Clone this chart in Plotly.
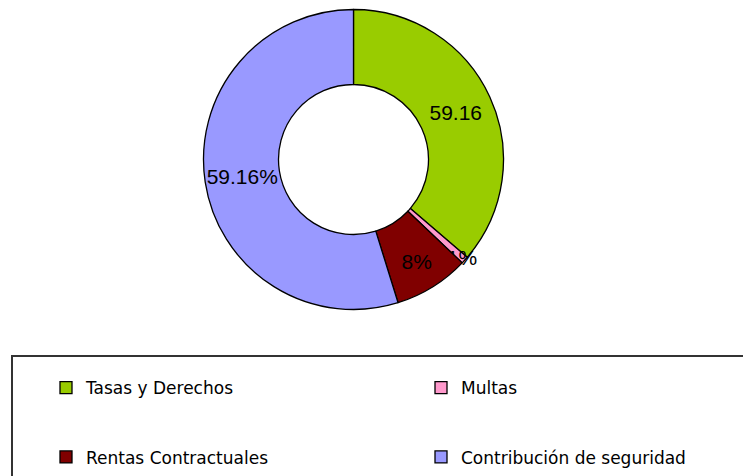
import plotly.graph_objects as go

categories = ["Tasas y Derechos", "Multas", "Rentas Contractuales", "Contribución de seguridad"]
values = [36.3, 0.8, 8.1, 54.8]
slice_text = ["59.16", "1%", "8%", "59.16%"]
colors = ["#99CC00", "#FF99CC", "#800000", "#9999FF"]

W, H = 751, 476
PAGE_OFFSET = 8  # default body margin of the written html page
# pie geometry in pixels (as seen on the page)
cx, cy, r = 353.5 - PAGE_OFFSET, 159.5 - PAGE_OFFSET, 150

legend_labels = [" <br>" + c + "<br> " for c in categories]

fig = go.Figure(go.Pie(
    labels=legend_labels,
    values=values,
    text=slice_text,
    textinfo="text",
    textposition="inside",
    insidetextorientation="horizontal",
    textfont=dict(family="Liberation Sans, Arial", size=21, color="black"),
    marker=dict(colors=colors, line=dict(color="black", width=1.3)),
    hole=0.5,
    sort=False,
    direction="clockwise",
    rotation=0,
    hoverinfo="skip",
    domain=dict(x=[(cx - r) / W, (cx + r) / W], y=[1 - (cy + r) / H, 1 - (cy - r) / H]),
))

box_left = 12 - PAGE_OFFSET
box_top = 356 - PAGE_OFFSET

fig.update_layout(
    width=W, height=H,
    margin=dict(l=0, r=0, t=0, b=0, autoexpand=False),
    paper_bgcolor="white",
    plot_bgcolor="white",
    uniformtext=dict(minsize=21, mode="show"),
    showlegend=True,
    legend=dict(
        orientation="h",
        x=38 / W, xanchor="left",
        y=1 - 340 / H, yanchor="top",
        entrywidth=330,
        entrywidthmode="pixels",
        maxheight=400,
        font=dict(family="DejaVu Sans", size=17, color="black"),
        bgcolor="rgba(0,0,0,0)",
        borderwidth=0,
        traceorder="normal",
    ),
    shapes=[dict(
        type="rect", xref="paper", yref="paper",
        x0=box_left / W, x1=1.05, y0=-0.05, y1=1 - box_top / H,
        line=dict(color="#333333", width=2),
        fillcolor="rgba(0,0,0,0)",
        layer="below",
    )],
)

fig.write_html("out.html")
